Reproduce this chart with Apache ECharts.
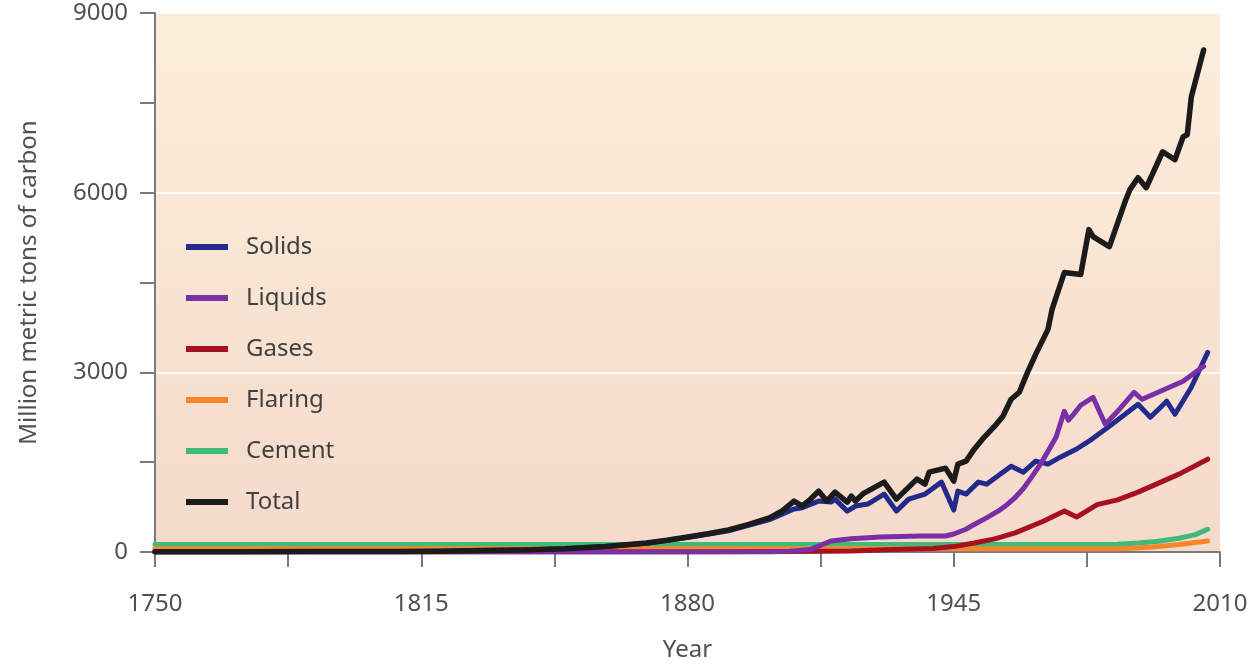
<!DOCTYPE html>
<html>
<head>
<meta charset="utf-8">
<script src="https://cdn.jsdelivr.net/npm/echarts@6/dist/echarts.min.js"></script>
<style>
  html, body { margin: 0; padding: 0; background: #fff; }
  #chart { width: 1251px; height: 667px; }
</style>
</head>
<body>
<div id="chart"></div>
<script>
// values, [year, million metric tons of carbon]
const totalData = [
  [1750, 3], [1770, 4], [1790, 7], [1800, 8], [1810, 10], [1820, 14], [1830, 25], [1840, 35],
  [1850, 55], [1860, 92], [1865, 120], [1870, 150], [1875, 195], [1880, 250], [1885, 305],
  [1890, 370], [1895, 460], [1900, 570], [1903, 680], [1906, 850], [1908, 770], [1910, 880],
  [1912, 1017], [1914, 850], [1916, 1000], [1919, 833], [1920, 933], [1921, 850], [1923, 980],
  [1928, 1167], [1931, 883], [1936, 1217], [1938, 1133], [1939, 1333], [1943, 1400],
  [1945, 1183], [1946, 1467], [1948, 1517], [1950, 1717], [1952, 1883], [1955, 2100],
  [1957, 2267], [1959, 2550], [1961, 2667], [1963, 3000], [1965, 3300], [1968, 3717],
  [1969, 4050], [1972, 4667], [1976, 4633], [1978, 5383], [1979, 5267], [1983, 5100],
  [1987, 5883], [1988, 6050], [1990, 6250], [1992, 6083], [1996, 6683], [1999, 6550],
  [2001, 6933], [2002, 6967], [2003, 7600], [2006, 8383]
];
const solidsData = [
  [1750, 3], [1770, 4], [1790, 7], [1800, 8], [1810, 10], [1820, 14], [1830, 25], [1840, 35],
  [1850, 54], [1860, 90], [1870, 145], [1880, 240], [1890, 355], [1900, 540], [1906, 717],
  [1908, 740], [1912, 850], [1915, 833], [1916, 883], [1919, 683], [1921, 767], [1924, 800],
  [1928, 967], [1931, 683], [1934, 883], [1938, 967], [1942, 1167], [1945, 700], [1946, 1017],
  [1948, 967], [1951, 1167], [1953, 1133], [1959, 1433], [1962, 1333], [1965, 1517],
  [1968, 1467], [1971, 1583], [1975, 1720], [1978, 1850], [1983, 2100], [1990, 2467],
  [1993, 2250], [1997, 2517], [1999, 2300], [2003, 2750], [2007, 3333]
];
const liquidsData = [
  [1750, 0], [1860, 0], [1880, 2], [1900, 6], [1905, 12], [1910, 40], [1915, 183], [1920, 220],
  [1927, 250], [1937, 267], [1943, 267], [1945, 300], [1948, 380], [1950, 460], [1953, 570],
  [1956, 690], [1958, 790], [1960, 910], [1962, 1060], [1964, 1250], [1966, 1450],
  [1968, 1680], [1970, 1920], [1972, 2350], [1973, 2200], [1974, 2280], [1976, 2450],
  [1979, 2583], [1982, 2133], [1985, 2350], [1989, 2667], [1991, 2550], [1996, 2700],
  [2001, 2850], [2006, 3100]
];
const gasesData = [
  [1750, 0], [1880, 0], [1900, 5], [1920, 15], [1930, 40], [1940, 60], [1945, 90], [1950, 150],
  [1955, 220], [1960, 320], [1967, 517], [1972, 683], [1975, 583], [1980, 790], [1985, 870],
  [1990, 1000], [2000, 1300], [2007, 1550]
];
const flaringData = [
  [1750, 55], [1985, 55], [1990, 65], [1995, 90], [2000, 125], [2007, 185]
];
const cementData = [
  [1750, 125], [1985, 130], [1990, 150], [1995, 180], [2000, 230], [2004, 290], [2007, 380]
];
const legendNames = ['Solids', 'Liquids', 'Gases', 'Flaring', 'Cement', 'Total'];

const chart = echarts.init(document.getElementById('chart'));
const font = "'Noto Sans', 'Open Sans', sans-serif";
const axisColor = '#7a7a7a';

function line(name, data, color, width) {
  return {
    name: name,
    type: 'line',
    data: data,
    symbol: 'none',
    smooth: false,
    lineStyle: { color: color, width: width || 5, join: 'round', cap: 'round' },
    itemStyle: { color: color },
    animation: false
  };
}

chart.setOption({
  animation: false,
  grid: {
    left: 155, right: 31, top: 13, bottom: 114,
    show: true,
    borderWidth: 0,
    backgroundColor: new echarts.graphic.LinearGradient(0, 0, 0, 1, [
      { offset: 0, color: '#fdeedb' },
      { offset: 1, color: '#f4dacb' }
    ])
  },
  legend: {
    data: legendNames,
    orient: 'vertical',
    left: 181,
    top: 230,
    icon: 'rect',
    itemWidth: 42,
    itemHeight: 6,
    itemGap: 27,
    textStyle: { fontFamily: font, fontSize: 24, color: '#404040', lineHeight: 24, padding: [0, 0, 0, 13] }
  },
  xAxis: {
    type: 'value',
    min: 1750, max: 2010, interval: 65,
    name: 'Year',
    nameLocation: 'middle',
    nameGap: 86,
    nameTextStyle: { fontFamily: font, fontSize: 24, color: '#505050' },
    axisLine: { show: true, lineStyle: { color: axisColor, width: 2 } },
    axisTick: { show: true, length: 15, lineStyle: { color: axisColor, width: 2 } },
    minorTick: { show: true, splitNumber: 2, length: 15, lineStyle: { color: axisColor, width: 2 } },
    axisLabel: { fontFamily: font, fontSize: 24, color: '#505050', margin: 40, formatter: v => String(v) },
    splitLine: { show: false }
  },
  yAxis: {
    type: 'value',
    min: 0, max: 9000, interval: 3000,
    name: 'Million metric tons of carbon',
    nameLocation: 'middle',
    nameGap: 114,
    nameTextStyle: { fontFamily: font, fontSize: 24, color: '#505050' },
    axisLine: { show: true, lineStyle: { color: axisColor, width: 2 } },
    axisTick: { show: true, length: 15, lineStyle: { color: axisColor, width: 2 } },
    minorTick: { show: true, splitNumber: 2, length: 15, lineStyle: { color: axisColor, width: 2 } },
    axisLabel: { fontFamily: font, fontSize: 24, color: '#505050', margin: 27, formatter: v => String(v) },
    splitLine: { show: true, lineStyle: { color: 'rgba(255,255,255,0.85)', width: 2 } }
  },
  series: [
    line('Cement', cementData, '#3fba78'),
    line('Flaring', flaringData, '#f5862a'),
    line('Gases', gasesData, '#a8101f'),
    line('Solids', solidsData, '#222a8c'),
    line('Liquids', liquidsData, '#7a2fa6'),
    line('Total', totalData, '#1b1b1b', 5.5)
  ]
});
</script>
</body>
</html>
